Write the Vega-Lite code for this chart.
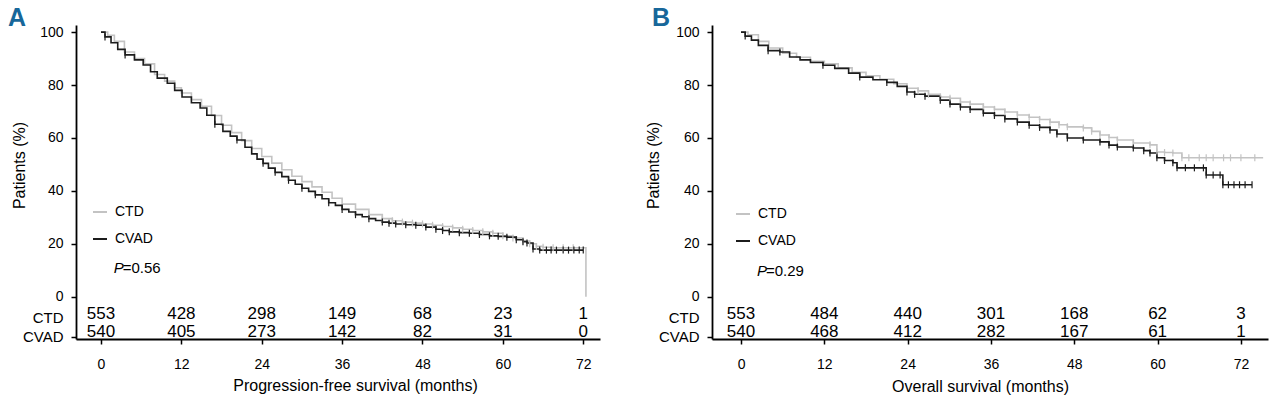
{
  "$schema": "https://vega.github.io/schema/vega-lite/v6.json",
  "padding": {"left": 8, "top": 6, "right": 4, "bottom": 4},
  "bounds": "flush",
  "spacing": 112,
  "datasets": {
    "km": [
      {"p":"A","g":"CTD","t":0,"s":100},{"p":"A","g":"CTD","t":1,"s":98.8},{"p":"A","g":"CTD","t":2,"s":96.5},{"p":"A","g":"CTD","t":3.5,"s":92.5},{"p":"A","g":"CTD","t":5,"s":90},{"p":"A","g":"CTD","t":6.5,"s":88},{"p":"A","g":"CTD","t":8,"s":84},{"p":"A","g":"CTD","t":9.5,"s":81.5},{"p":"A","g":"CTD","t":11,"s":79},{"p":"A","g":"CTD","t":12,"s":77},{"p":"A","g":"CTD","t":13.5,"s":74.5},{"p":"A","g":"CTD","t":15,"s":72},{"p":"A","g":"CTD","t":16.5,"s":68.5},{"p":"A","g":"CTD","t":18,"s":64.8},{"p":"A","g":"CTD","t":19.5,"s":62},{"p":"A","g":"CTD","t":21,"s":59},{"p":"A","g":"CTD","t":22.5,"s":56},{"p":"A","g":"CTD","t":24,"s":53},{"p":"A","g":"CTD","t":25.5,"s":50.5},{"p":"A","g":"CTD","t":27,"s":48},{"p":"A","g":"CTD","t":28.5,"s":45.5},{"p":"A","g":"CTD","t":30,"s":43.5},{"p":"A","g":"CTD","t":31.5,"s":41.5},{"p":"A","g":"CTD","t":33,"s":39.5},{"p":"A","g":"CTD","t":34.5,"s":37.2},{"p":"A","g":"CTD","t":36,"s":35},{"p":"A","g":"CTD","t":38,"s":33},{"p":"A","g":"CTD","t":40,"s":31,"c":1},{"p":"A","g":"CTD","t":42,"s":29.5,"c":1},{"p":"A","g":"CTD","t":43.5,"s":28.7,"c":1},{"p":"A","g":"CTD","t":45,"s":28.2,"c":1},{"p":"A","g":"CTD","t":46.5,"s":27.8,"c":1},{"p":"A","g":"CTD","t":48,"s":27.5,"c":1},{"p":"A","g":"CTD","t":49.5,"s":27,"c":1},{"p":"A","g":"CTD","t":51,"s":26.5,"c":1},{"p":"A","g":"CTD","t":52.5,"s":26,"c":1},{"p":"A","g":"CTD","t":54,"s":25.5,"c":1},{"p":"A","g":"CTD","t":55.5,"s":25,"c":1},{"p":"A","g":"CTD","t":57,"s":24.5,"c":1},{"p":"A","g":"CTD","t":58.5,"s":24,"c":1},{"p":"A","g":"CTD","t":60,"s":23,"c":1},{"p":"A","g":"CTD","t":61.5,"s":22.2,"c":1},{"p":"A","g":"CTD","t":63,"s":21,"c":1},{"p":"A","g":"CTD","t":64,"s":20,"c":1},{"p":"A","g":"CTD","t":65,"s":19,"c":1},{"p":"A","g":"CTD","t":66,"s":18.7,"c":1},{"p":"A","g":"CTD","t":67.5,"s":18.5,"c":1},{"p":"A","g":"CTD","t":69,"s":18.5,"c":1},{"p":"A","g":"CTD","t":70.5,"s":18.5,"c":1},{"p":"A","g":"CTD","t":72.3,"s":18.5},{"p":"A","g":"CTD","t":72.4,"s":0},
      {"p":"A","g":"CVAD","t":0,"s":100},{"p":"A","g":"CVAD","t":0.6,"s":98.2,"c":1},{"p":"A","g":"CVAD","t":1.5,"s":96},{"p":"A","g":"CVAD","t":2.5,"s":93.5},{"p":"A","g":"CVAD","t":3.6,"s":91.4,"c":1},{"p":"A","g":"CVAD","t":5,"s":89.5},{"p":"A","g":"CVAD","t":6.3,"s":87.6},{"p":"A","g":"CVAD","t":7.4,"s":85},{"p":"A","g":"CVAD","t":8.4,"s":82.6},{"p":"A","g":"CVAD","t":9.9,"s":80.7},{"p":"A","g":"CVAD","t":11,"s":78},{"p":"A","g":"CVAD","t":12.1,"s":75.5},{"p":"A","g":"CVAD","t":13.5,"s":73.3},{"p":"A","g":"CVAD","t":14.8,"s":71.3},{"p":"A","g":"CVAD","t":15.8,"s":68.6},{"p":"A","g":"CVAD","t":17,"s":65.2,"c":1},{"p":"A","g":"CVAD","t":18.2,"s":62.5},{"p":"A","g":"CVAD","t":19.3,"s":60.7},{"p":"A","g":"CVAD","t":20.3,"s":59.2,"c":1},{"p":"A","g":"CVAD","t":21.5,"s":56.5},{"p":"A","g":"CVAD","t":22.5,"s":54},{"p":"A","g":"CVAD","t":23.3,"s":52},{"p":"A","g":"CVAD","t":24.2,"s":50.4,"c":1},{"p":"A","g":"CVAD","t":25,"s":48.6},{"p":"A","g":"CVAD","t":26,"s":47,"c":1},{"p":"A","g":"CVAD","t":27,"s":45.4},{"p":"A","g":"CVAD","t":28,"s":44,"c":1},{"p":"A","g":"CVAD","t":29,"s":42.5},{"p":"A","g":"CVAD","t":30,"s":41,"c":1},{"p":"A","g":"CVAD","t":31,"s":39.8},{"p":"A","g":"CVAD","t":32,"s":38.5,"c":1},{"p":"A","g":"CVAD","t":33,"s":37},{"p":"A","g":"CVAD","t":34,"s":35.5,"c":1},{"p":"A","g":"CVAD","t":35,"s":34.5},{"p":"A","g":"CVAD","t":36,"s":33,"c":1},{"p":"A","g":"CVAD","t":37,"s":32},{"p":"A","g":"CVAD","t":38,"s":31,"c":1},{"p":"A","g":"CVAD","t":39,"s":30.2},{"p":"A","g":"CVAD","t":40,"s":29.5,"c":1},{"p":"A","g":"CVAD","t":41,"s":28.8},{"p":"A","g":"CVAD","t":42,"s":28.2,"c":1},{"p":"A","g":"CVAD","t":43,"s":27.8,"c":1},{"p":"A","g":"CVAD","t":44,"s":27.5,"c":1},{"p":"A","g":"CVAD","t":45.5,"s":27.2,"c":1},{"p":"A","g":"CVAD","t":47,"s":27,"c":1},{"p":"A","g":"CVAD","t":48.5,"s":26.3,"c":1},{"p":"A","g":"CVAD","t":50,"s":25.5,"c":1},{"p":"A","g":"CVAD","t":51,"s":25,"c":1},{"p":"A","g":"CVAD","t":52,"s":24.5,"c":1},{"p":"A","g":"CVAD","t":53.5,"s":24.2,"c":1},{"p":"A","g":"CVAD","t":55,"s":24,"c":1},{"p":"A","g":"CVAD","t":56.5,"s":23.5,"c":1},{"p":"A","g":"CVAD","t":58,"s":23,"c":1},{"p":"A","g":"CVAD","t":59.3,"s":22.8,"c":1},{"p":"A","g":"CVAD","t":60.6,"s":22.5,"c":1},{"p":"A","g":"CVAD","t":62,"s":21.5,"c":1},{"p":"A","g":"CVAD","t":63,"s":20.8,"c":1},{"p":"A","g":"CVAD","t":63.6,"s":20.3,"c":1},{"p":"A","g":"CVAD","t":64.5,"s":18,"c":1},{"p":"A","g":"CVAD","t":65.5,"s":17.6,"c":1},{"p":"A","g":"CVAD","t":66.5,"s":17.6,"c":1},{"p":"A","g":"CVAD","t":67.2,"s":17.6,"c":1},{"p":"A","g":"CVAD","t":68,"s":17.6,"c":1},{"p":"A","g":"CVAD","t":69,"s":17.6,"c":1},{"p":"A","g":"CVAD","t":69.8,"s":17.6,"c":1},{"p":"A","g":"CVAD","t":70.6,"s":17.6,"c":1},{"p":"A","g":"CVAD","t":71.4,"s":17.6,"c":1},{"p":"A","g":"CVAD","t":72,"s":17.6,"c":1},
      {"p":"B","g":"CTD","t":0,"s":100},{"p":"B","g":"CTD","t":1,"s":99},{"p":"B","g":"CTD","t":2.5,"s":96.5},{"p":"B","g":"CTD","t":4,"s":94},{"p":"B","g":"CTD","t":6,"s":92},{"p":"B","g":"CTD","t":8,"s":90.5},{"p":"B","g":"CTD","t":10,"s":89},{"p":"B","g":"CTD","t":12,"s":88},{"p":"B","g":"CTD","t":14,"s":86.5},{"p":"B","g":"CTD","t":16,"s":84.8},{"p":"B","g":"CTD","t":18,"s":83.5},{"p":"B","g":"CTD","t":20,"s":82.2},{"p":"B","g":"CTD","t":22,"s":80.5},{"p":"B","g":"CTD","t":23.9,"s":78.8},{"p":"B","g":"CTD","t":25.5,"s":77.8,"c":1},{"p":"B","g":"CTD","t":27,"s":76.5,"c":1},{"p":"B","g":"CTD","t":28.7,"s":75.5,"c":1},{"p":"B","g":"CTD","t":30.1,"s":75,"c":1},{"p":"B","g":"CTD","t":31.6,"s":73.6,"c":1},{"p":"B","g":"CTD","t":33,"s":72.8,"c":1},{"p":"B","g":"CTD","t":34.9,"s":71.7,"c":1},{"p":"B","g":"CTD","t":36.5,"s":70.8,"c":1},{"p":"B","g":"CTD","t":38,"s":69.8,"c":1},{"p":"B","g":"CTD","t":39.8,"s":68.7,"c":1},{"p":"B","g":"CTD","t":41.5,"s":67.8,"c":1},{"p":"B","g":"CTD","t":43,"s":67,"c":1},{"p":"B","g":"CTD","t":44.5,"s":66,"c":1},{"p":"B","g":"CTD","t":45.8,"s":65,"c":1},{"p":"B","g":"CTD","t":47,"s":64.2,"c":1},{"p":"B","g":"CTD","t":49.3,"s":63.8,"c":1},{"p":"B","g":"CTD","t":50.5,"s":62.5,"c":1},{"p":"B","g":"CTD","t":51.7,"s":61.1,"c":1},{"p":"B","g":"CTD","t":53,"s":60.2,"c":1},{"p":"B","g":"CTD","t":54.2,"s":59.2,"c":1},{"p":"B","g":"CTD","t":56.5,"s":58.1,"c":1},{"p":"B","g":"CTD","t":58.9,"s":57.4,"c":1},{"p":"B","g":"CTD","t":59.9,"s":54.7,"c":1},{"p":"B","g":"CTD","t":61,"s":54.5,"c":1},{"p":"B","g":"CTD","t":62.2,"s":54.3,"c":1},{"p":"B","g":"CTD","t":63.5,"s":52.5,"c":1},{"p":"B","g":"CTD","t":64.5,"s":52.5,"c":1},{"p":"B","g":"CTD","t":66,"s":52.5,"c":1},{"p":"B","g":"CTD","t":67,"s":52.5,"c":1},{"p":"B","g":"CTD","t":68,"s":52.5,"c":1},{"p":"B","g":"CTD","t":69.5,"s":52.5,"c":1},{"p":"B","g":"CTD","t":70.5,"s":52.5,"c":1},{"p":"B","g":"CTD","t":72,"s":52.5,"c":1},{"p":"B","g":"CTD","t":74,"s":52.5,"c":1},{"p":"B","g":"CTD","t":75.2,"s":52.5},
      {"p":"B","g":"CVAD","t":0,"s":100},{"p":"B","g":"CVAD","t":0.6,"s":98.5,"c":1},{"p":"B","g":"CVAD","t":1.5,"s":97},{"p":"B","g":"CVAD","t":2.5,"s":95},{"p":"B","g":"CVAD","t":3.9,"s":93,"c":1},{"p":"B","g":"CVAD","t":5.6,"s":92.5,"c":1},{"p":"B","g":"CVAD","t":7,"s":90.6},{"p":"B","g":"CVAD","t":8.5,"s":89.5},{"p":"B","g":"CVAD","t":10,"s":88.5},{"p":"B","g":"CVAD","t":11.8,"s":87.5,"c":1},{"p":"B","g":"CVAD","t":13.5,"s":86.3},{"p":"B","g":"CVAD","t":15.5,"s":84.5},{"p":"B","g":"CVAD","t":17.1,"s":83,"c":1},{"p":"B","g":"CVAD","t":19,"s":82},{"p":"B","g":"CVAD","t":21,"s":81,"c":1},{"p":"B","g":"CVAD","t":22.5,"s":79.5},{"p":"B","g":"CVAD","t":23.9,"s":77.4,"c":1},{"p":"B","g":"CVAD","t":25,"s":76.5,"c":1},{"p":"B","g":"CVAD","t":26.5,"s":75.8,"c":1},{"p":"B","g":"CVAD","t":28.7,"s":74.3,"c":1},{"p":"B","g":"CVAD","t":30.1,"s":72.8,"c":1},{"p":"B","g":"CVAD","t":31.6,"s":71.7,"c":1},{"p":"B","g":"CVAD","t":33,"s":70.8,"c":1},{"p":"B","g":"CVAD","t":34.9,"s":69.4,"c":1},{"p":"B","g":"CVAD","t":36.5,"s":68.5,"c":1},{"p":"B","g":"CVAD","t":38,"s":67.2,"c":1},{"p":"B","g":"CVAD","t":39.8,"s":66,"c":1},{"p":"B","g":"CVAD","t":41.5,"s":64.8,"c":1},{"p":"B","g":"CVAD","t":43,"s":64,"c":1},{"p":"B","g":"CVAD","t":44.5,"s":63,"c":1},{"p":"B","g":"CVAD","t":45.5,"s":61.5,"c":1},{"p":"B","g":"CVAD","t":47,"s":60,"c":1},{"p":"B","g":"CVAD","t":49.3,"s":59.2,"c":1},{"p":"B","g":"CVAD","t":51.7,"s":58.5,"c":1},{"p":"B","g":"CVAD","t":53,"s":57.3,"c":1},{"p":"B","g":"CVAD","t":54.2,"s":56.6,"c":1},{"p":"B","g":"CVAD","t":56.5,"s":56.2,"c":1},{"p":"B","g":"CVAD","t":58,"s":55.2,"c":1},{"p":"B","g":"CVAD","t":58.9,"s":54.3,"c":1},{"p":"B","g":"CVAD","t":59.9,"s":52.5,"c":1},{"p":"B","g":"CVAD","t":61,"s":51.5,"c":1},{"p":"B","g":"CVAD","t":62.2,"s":50.6,"c":1},{"p":"B","g":"CVAD","t":62.8,"s":48.7,"c":1},{"p":"B","g":"CVAD","t":64,"s":48.7,"c":1},{"p":"B","g":"CVAD","t":65.3,"s":48.7,"c":1},{"p":"B","g":"CVAD","t":66.6,"s":48.7,"c":1},{"p":"B","g":"CVAD","t":67,"s":46,"c":1},{"p":"B","g":"CVAD","t":68,"s":46,"c":1},{"p":"B","g":"CVAD","t":69,"s":46,"c":1},{"p":"B","g":"CVAD","t":69.4,"s":42.3,"c":1},{"p":"B","g":"CVAD","t":70.2,"s":42.3,"c":1},{"p":"B","g":"CVAD","t":71,"s":42.3,"c":1},{"p":"B","g":"CVAD","t":71.8,"s":42.3,"c":1},{"p":"B","g":"CVAD","t":72.6,"s":42.3,"c":1},{"p":"B","g":"CVAD","t":73.6,"s":42.3,"c":1}
    ],
    "risk": [
      {"p":"A","g":"CTD","t":0,"n":553},{"p":"A","g":"CTD","t":12,"n":428},{"p":"A","g":"CTD","t":24,"n":298},{"p":"A","g":"CTD","t":36,"n":149},{"p":"A","g":"CTD","t":48,"n":68},{"p":"A","g":"CTD","t":60,"n":23},{"p":"A","g":"CTD","t":72,"n":1},
      {"p":"A","g":"CVAD","t":0,"n":540},{"p":"A","g":"CVAD","t":12,"n":405},{"p":"A","g":"CVAD","t":24,"n":273},{"p":"A","g":"CVAD","t":36,"n":142},{"p":"A","g":"CVAD","t":48,"n":82},{"p":"A","g":"CVAD","t":60,"n":31},{"p":"A","g":"CVAD","t":72,"n":0},
      {"p":"B","g":"CTD","t":0,"n":553},{"p":"B","g":"CTD","t":12,"n":484},{"p":"B","g":"CTD","t":24,"n":440},{"p":"B","g":"CTD","t":36,"n":301},{"p":"B","g":"CTD","t":48,"n":168},{"p":"B","g":"CTD","t":60,"n":62},{"p":"B","g":"CTD","t":72,"n":3},
      {"p":"B","g":"CVAD","t":0,"n":540},{"p":"B","g":"CVAD","t":12,"n":468},{"p":"B","g":"CVAD","t":24,"n":412},{"p":"B","g":"CVAD","t":36,"n":282},{"p":"B","g":"CVAD","t":48,"n":167},{"p":"B","g":"CVAD","t":60,"n":61},{"p":"B","g":"CVAD","t":72,"n":1}
    ],
    "pv": [
      {"p":"A","sym":"P","val":"=0.56"},
      {"p":"B","sym":"P","val":"=0.29"}
    ]
  },
  "hconcat": [
    {
      "width": 524, "height": 314,
      "title": {"text": "A", "anchor": "start", "frame": "group", "dx": -68, "dy": 26, "offset": 0, "baseline": "alphabetic", "fontSize": 25, "fontWeight": "bold", "color": "#17679a"},
      "layer": [
        {
          "data": {"name": "km"},
          "transform": [{"filter": "datum.p == 'A'"}],
          "mark": {"type": "line", "interpolate": "step-after", "strokeWidth": 1.6},
          "encoding": {
            "x": {"field": "t", "type": "quantitative", "scale": {"domain": [-3.73, 74.5], "nice": false, "zero": false},
                  "axis": {"title": "Progression-free survival (months)", "values": [0,12,24,36,48,60,72], "labelOverlap": false, "titleX": 279, "titleY": 51, "titleBaseline": "alphabetic", "titleAnchor": null}},
            "y": {"field": "s", "type": "quantitative", "scale": {"domain": [-16, 102.7], "nice": false, "zero": false},
                  "axis": {"title": "Patients (%)", "values": [-15.2,-8,0,20,40,60,80,100], "labelOverlap": false,
                           "labelExpr": "datum.value < -10 ? 'CVAD' : datum.value < -5 ? 'CTD' : datum.label",
                           "tickOpacity": {"condition": {"test": "datum.value < -5 && datum.value > -10", "value": 0}, "value": 1},
                           "labelFontSize": {"condition": {"test": "datum.value < 0", "value": 15}, "value": 14},
                           "titleX": -49, "titleY": 140, "titleBaseline": "bottom", "titleAnchor": null}},
            "color": {"field": "g", "type": "nominal", "scale": {"domain": ["CTD", "CVAD"], "range": ["#c3c3c3", "#1c1c1c"]},
                      "legend": {"orient": "none", "legendX": 16, "legendY": 179}}
          }
        },
        {
          "data": {"name": "km"},
          "transform": [{"filter": "datum.p == 'A' && datum.c == 1"}],
          "mark": {"type": "point", "shape": "M0,-1L0,1", "size": 49, "filled": false, "strokeWidth": 1.2, "opacity": 1},
          "encoding": {
            "x": {"field": "t", "type": "quantitative"},
            "y": {"field": "s", "type": "quantitative"},
            "color": {"field": "g", "type": "nominal", "legend": null}
          }
        },
        {
          "data": {"name": "risk"},
          "transform": [{"filter": "datum.p == 'A' && datum.g == 'CTD'"}],
          "mark": {"type": "text", "fontSize": 17, "baseline": "middle"},
          "encoding": {"x": {"field": "t", "type": "quantitative"}, "y": {"datum": -6.5}, "text": {"field": "n"}}
        },
        {
          "data": {"name": "risk"},
          "transform": [{"filter": "datum.p == 'A' && datum.g == 'CVAD'"}],
          "mark": {"type": "text", "fontSize": 17, "baseline": "middle"},
          "encoding": {"x": {"field": "t", "type": "quantitative"}, "y": {"datum": -13.5}, "text": {"field": "n"}}
        },
        {
          "data": {"name": "pv"},
          "transform": [{"filter": "datum.p == 'A'"}],
          "mark": {"type": "text", "fontSize": 15, "fontStyle": "italic", "align": "left", "baseline": "middle"},
          "encoding": {"x": {"datum": 1.9}, "y": {"datum": 10.8}, "text": {"field": "sym"}}
        },
        {
          "data": {"name": "pv"},
          "transform": [{"filter": "datum.p == 'A'"}],
          "mark": {"type": "text", "fontSize": 15, "align": "left", "baseline": "middle", "dx": 9},
          "encoding": {"x": {"datum": 1.9}, "y": {"datum": 10.8}, "text": {"field": "val"}}
        }
      ]
    },
    {
      "width": 556, "height": 314,
      "title": {"text": "B", "anchor": "start", "frame": "group", "dx": -60, "dy": 26, "offset": 0, "baseline": "alphabetic", "fontSize": 25, "fontWeight": "bold", "color": "#17679a"},
      "layer": [
        {
          "data": {"name": "km"},
          "transform": [{"filter": "datum.p == 'B'"}],
          "mark": {"type": "line", "interpolate": "step-after", "strokeWidth": 1.6},
          "encoding": {
            "x": {"field": "t", "type": "quantitative", "scale": {"domain": [-4.18, 75.9], "nice": false, "zero": false},
                  "axis": {"title": "Overall survival (months)", "values": [0,12,24,36,48,60,72], "labelOverlap": false, "titleX": 268, "titleY": 52, "titleBaseline": "alphabetic", "titleAnchor": null}},
            "y": {"field": "s", "type": "quantitative", "scale": {"domain": [-16, 102.7], "nice": false, "zero": false},
                  "axis": {"title": "Patients (%)", "values": [-15.2,-8,0,20,40,60,80,100], "labelOverlap": false,
                           "labelExpr": "datum.value < -10 ? 'CVAD' : datum.value < -5 ? 'CTD' : datum.label",
                           "tickOpacity": {"condition": {"test": "datum.value < -5 && datum.value > -10", "value": 0}, "value": 1},
                           "labelFontSize": {"condition": {"test": "datum.value < 0", "value": 15}, "value": 14},
                           "titleX": -51, "titleY": 140, "titleBaseline": "bottom", "titleAnchor": null}},
            "color": {"field": "g", "type": "nominal", "scale": {"domain": ["CTD", "CVAD"], "range": ["#c3c3c3", "#1c1c1c"]},
                      "legend": {"orient": "none", "legendX": 23, "legendY": 181}}
          }
        },
        {
          "data": {"name": "km"},
          "transform": [{"filter": "datum.p == 'B' && datum.c == 1"}],
          "mark": {"type": "point", "shape": "M0,-1L0,1", "size": 49, "filled": false, "strokeWidth": 1.2, "opacity": 1},
          "encoding": {
            "x": {"field": "t", "type": "quantitative"},
            "y": {"field": "s", "type": "quantitative"},
            "color": {"field": "g", "type": "nominal", "legend": null}
          }
        },
        {
          "data": {"name": "risk"},
          "transform": [{"filter": "datum.p == 'B' && datum.g == 'CTD'"}],
          "mark": {"type": "text", "fontSize": 17, "baseline": "middle"},
          "encoding": {"x": {"field": "t", "type": "quantitative"}, "y": {"datum": -6.5}, "text": {"field": "n"}}
        },
        {
          "data": {"name": "risk"},
          "transform": [{"filter": "datum.p == 'B' && datum.g == 'CVAD'"}],
          "mark": {"type": "text", "fontSize": 17, "baseline": "middle"},
          "encoding": {"x": {"field": "t", "type": "quantitative"}, "y": {"datum": -13.5}, "text": {"field": "n"}}
        },
        {
          "data": {"name": "pv"},
          "transform": [{"filter": "datum.p == 'B'"}],
          "mark": {"type": "text", "fontSize": 15, "fontStyle": "italic", "align": "left", "baseline": "middle"},
          "encoding": {"x": {"datum": 2.3}, "y": {"datum": 9.7}, "text": {"field": "sym"}}
        },
        {
          "data": {"name": "pv"},
          "transform": [{"filter": "datum.p == 'B'"}],
          "mark": {"type": "text", "fontSize": 15, "align": "left", "baseline": "middle", "dx": 9},
          "encoding": {"x": {"datum": 2.3}, "y": {"datum": 9.7}, "text": {"field": "val"}}
        }
      ]
    }
  ],
  "resolve": {"scale": {"color": "independent"}},
  "config": {
    "font": "Liberation Sans, Arial, sans-serif",
    "view": {"stroke": null},
    "text": {"color": "#000"},
    "axis": {"grid": false, "domainColor": "#000", "domainWidth": 1.8, "tickColor": "#000", "tickWidth": 1.5, "tickSize": 5,
             "labelColor": "#000", "titleColor": "#000", "labelFontSize": 14, "titleFontSize": 16, "titleFontWeight": "normal",
             "labelOverlap": false, "labelFlush": false, "labelPadding": 8},
    "axisX": {"labelPadding": 13},
    "legend": {"title": null, "symbolType": "stroke", "symbolSize": 196, "symbolStrokeWidth": 2, "labelFontSize": 14, "labelOffset": 7,
               "rowPadding": 12, "padding": 0, "labelColor": "#000"}
  }
}
